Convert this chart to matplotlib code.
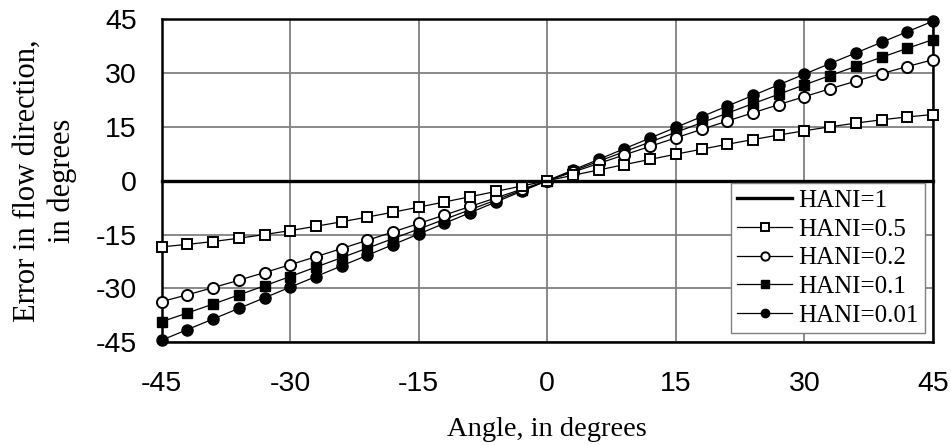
import matplotlib
matplotlib.use('Agg')
import matplotlib.pyplot as plt

plt.rcParams['axes.unicode_minus'] = False

# angles (deg) and error in flow direction (deg)
angle = [-45, -42, -39, -36, -33, -30, -27, -24, -21, -18, -15, -12, -9, -6, -3, 0,
         3, 6, 9, 12, 15, 18, 21, 24, 27, 30, 33, 36, 39, 42, 45]

hani_1 = [0.0] * 31
hani_05 = [-18.43, -17.76, -16.96, -16.03, -15.01, -13.90, -12.71, -11.45, -10.14, -8.77,
           -7.37, -5.93, -4.47, -2.99, -1.50, 0.0,
           1.50, 2.99, 4.47, 5.93, 7.37, 8.77, 10.14, 11.45, 12.71, 13.90, 15.01, 16.03,
           16.96, 17.76, 18.43]
hani_02 = [-33.69, -31.79, -29.80, -27.73, -25.60, -23.41, -21.18, -18.91, -16.61, -14.28,
           -11.93, -9.57, -7.19, -4.80, -2.40, 0.0,
           2.40, 4.80, 7.19, 9.57, 11.93, 14.28, 16.61, 18.91, 21.18, 23.41, 25.60, 27.73,
           29.80, 31.79, 33.69]
hani_01 = [-39.29, -36.86, -34.37, -31.84, -29.28, -26.70, -24.08, -21.45, -18.80, -16.14,
           -13.47, -10.78, -8.09, -5.40, -2.70, 0.0,
           2.70, 5.40, 8.09, 10.78, 13.47, 16.14, 18.80, 21.45, 24.08, 26.70, 29.28, 31.84,
           34.37, 36.86, 39.29]
hani_001 = [-44.43, -41.48, -38.54, -35.58, -32.63, -29.67, -26.71, -23.74, -20.78, -17.81,
            -14.85, -11.88, -8.91, -5.94, -2.97, 0.0,
            2.97, 5.94, 8.91, 11.88, 14.85, 17.81, 20.78, 23.74, 26.71, 29.67, 32.63, 35.58,
            38.54, 41.48, 44.43]

ticks = [-45, -30, -15, 0, 15, 30, 45]

serif = ['Liberation Serif', 'DejaVu Serif']
sans = ['Liberation Sans', 'DejaVu Sans']

fig = plt.figure(figsize=(9.51, 4.45), dpi=100)
ax = fig.add_axes([0.170, 0.231, 0.811, 0.726])

ms = 7.5
ax.plot(angle, hani_1, color='black', lw=2.4, label='HANI=1', zorder=6, clip_on=False)
ax.plot(angle, hani_05, color='black', lw=0.9, marker='s', ms=ms, mfc='white', mec='black',
        mew=1.4, label='HANI=0.5', zorder=5, clip_on=False)
ax.plot(angle, hani_02, color='black', lw=0.9, marker='o', ms=ms + 0.5, mfc='white', mec='black',
        mew=1.4, label='HANI=0.2', zorder=4, clip_on=False)
ax.plot(angle, hani_01, color='black', lw=0.9, marker='s', ms=ms, mfc='black', mec='black',
        label='HANI=0.1', zorder=3, clip_on=False)
ax.plot(angle, hani_001, color='black', lw=0.9, marker='o', ms=ms + 0.5, mfc='black', mec='black',
        label='HANI=0.01', zorder=2, clip_on=False)

ax.set_xlim(-45, 45)
ax.set_ylim(-45, 45)
ax.set_xticks(ticks)
ax.set_yticks(ticks)
ax.grid(True, color='#808080', lw=1.3)
ax.set_axisbelow(True)
for s in ax.spines.values():
    s.set_linewidth(1.8)
    s.set_color('black')

ax.tick_params(axis='both', length=0)
ax.tick_params(axis='x', pad=21)
ax.tick_params(axis='y', pad=18)
for lab in ax.get_xticklabels() + ax.get_yticklabels():
    lab.set_fontfamily(sans)
    lab.set_fontsize(20.5)

ax.set_xlabel('Angle, in degrees', fontfamily=serif, fontsize=20.5, labelpad=14)
ax.set_ylabel('Error in flow direction,\nin degrees', fontfamily=serif, fontsize=22,
              labelpad=13, linespacing=1.25)

leg = ax.legend(loc='lower right', bbox_to_anchor=(0.990, 0.028), prop={'family': serif, 'size': 18},
                frameon=True, fancybox=False, framealpha=1, edgecolor='#808080',
                labelspacing=0.25, handlelength=2.2, handletextpad=0.25, borderpad=0.25,
                markerscale=0.75, borderaxespad=0)
leg.get_frame().set_linewidth(1.0)
leg.set_zorder(10)

fig.savefig('out.png', dpi=100)
